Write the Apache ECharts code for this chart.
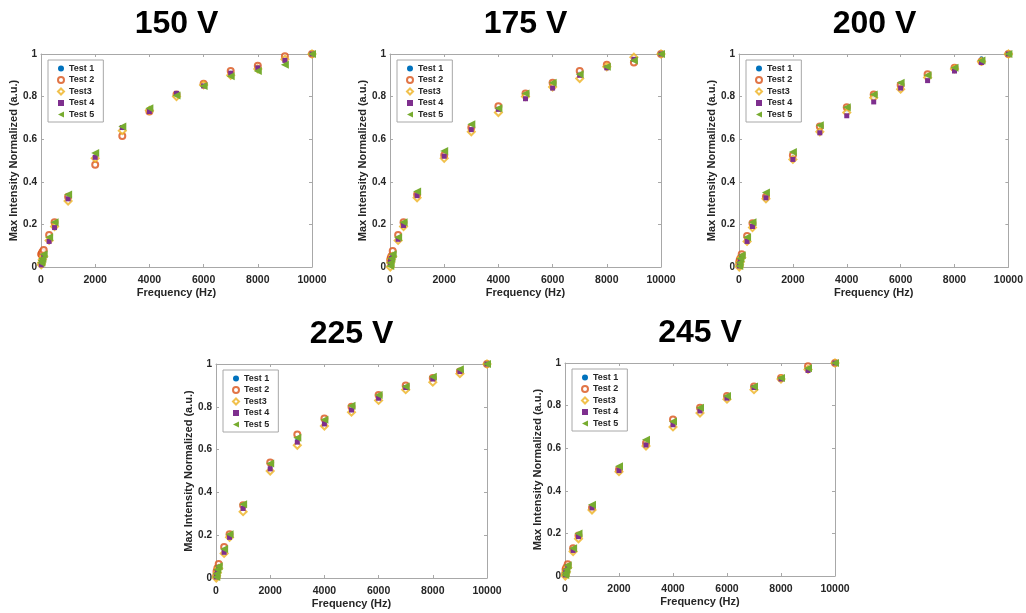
<!DOCTYPE html>
<html>
<head>
<meta charset="utf-8">
<script src="https://cdn.jsdelivr.net/npm/echarts@6/dist/echarts.min.js"></script>
<style>
  html, body { margin: 0; padding: 0; background: #fff; }
  #chart { width: 1026px; height: 613px; }
</style>
</head>
<body>
<div id="chart"></div>
<script>
// Drive frequencies (Hz) shared by every test
const freq = [10, 20, 50, 100, 300, 500, 1000, 2000, 3000, 4000, 5000, 6000, 7000, 8000, 9000, 10000];

const testNames = ['Test 1', 'Test 2', 'Test3', 'Test 4', 'Test 5'];
const voltages = ['150 V', '175 V', '200 V', '225 V', '245 V'];
const xTicks = [0, 2000, 4000, 6000, 8000, 10000];
const yTicks = [0, 0.2, 0.4, 0.6, 0.8, 1];

// Normalized max intensity, one row per test (Test 1 .. Test 5)
const v150 = [
  [0.015, 0.025, 0.04, 0.055, 0.13, 0.195, 0.325, 0.52, 0.65, 0.74, 0.81, 0.85, 0.91, 0.94, 0.975, 1],
  [0.06, 0.06, 0.07, 0.08, 0.15, 0.21, 0.33, 0.48, 0.615, 0.73, 0.81, 0.86, 0.92, 0.945, 0.99, 1],
  [0.01, 0.02, 0.035, 0.05, 0.125, 0.19, 0.31, 0.51, 0.64, 0.735, 0.80, 0.855, 0.90, 0.93, 0.975, 1],
  [0.01, 0.02, 0.03, 0.05, 0.12, 0.185, 0.32, 0.515, 0.655, 0.73, 0.815, 0.85, 0.91, 0.935, 0.97, 1],
  [0.02, 0.03, 0.04, 0.06, 0.14, 0.21, 0.34, 0.535, 0.66, 0.745, 0.805, 0.85, 0.895, 0.92, 0.95, 1]
];
const v175 = [
  [0.01, 0.025, 0.04, 0.055, 0.135, 0.20, 0.34, 0.525, 0.65, 0.745, 0.805, 0.85, 0.91, 0.945, 0.97, 1],
  [0.03, 0.04, 0.05, 0.075, 0.15, 0.21, 0.34, 0.525, 0.655, 0.755, 0.815, 0.865, 0.92, 0.95, 0.96, 1],
  [0.0, 0.02, 0.035, 0.05, 0.125, 0.19, 0.325, 0.51, 0.635, 0.725, 0.80, 0.845, 0.885, 0.94, 0.985, 1],
  [0.02, 0.03, 0.04, 0.05, 0.13, 0.195, 0.335, 0.52, 0.645, 0.74, 0.79, 0.84, 0.90, 0.935, 0.975, 1],
  [0.005, 0.02, 0.04, 0.06, 0.14, 0.21, 0.355, 0.545, 0.67, 0.745, 0.815, 0.865, 0.905, 0.94, 0.97, 1]
];
const v200 = [
  [0.01, 0.02, 0.035, 0.05, 0.135, 0.20, 0.335, 0.52, 0.645, 0.735, 0.80, 0.855, 0.895, 0.93, 0.98, 1],
  [0.02, 0.03, 0.04, 0.06, 0.145, 0.205, 0.33, 0.525, 0.66, 0.75, 0.81, 0.855, 0.905, 0.935, 0.965, 1],
  [0.0, 0.01, 0.025, 0.045, 0.12, 0.185, 0.32, 0.505, 0.635, 0.725, 0.795, 0.835, 0.89, 0.93, 0.965, 1],
  [0.005, 0.015, 0.03, 0.05, 0.12, 0.19, 0.325, 0.505, 0.63, 0.71, 0.775, 0.84, 0.875, 0.92, 0.96, 1],
  [0.005, 0.02, 0.04, 0.055, 0.14, 0.21, 0.35, 0.54, 0.665, 0.75, 0.81, 0.865, 0.90, 0.935, 0.97, 1]
];
const v225 = [
  [0.01, 0.02, 0.035, 0.055, 0.13, 0.20, 0.335, 0.525, 0.645, 0.735, 0.795, 0.85, 0.895, 0.935, 0.97, 1],
  [0.01, 0.03, 0.045, 0.065, 0.145, 0.205, 0.34, 0.54, 0.67, 0.745, 0.80, 0.855, 0.90, 0.935, 0.965, 1],
  [0.0, 0.01, 0.025, 0.045, 0.115, 0.19, 0.31, 0.50, 0.62, 0.71, 0.775, 0.83, 0.88, 0.915, 0.955, 1],
  [0.005, 0.015, 0.03, 0.05, 0.12, 0.19, 0.325, 0.51, 0.635, 0.72, 0.785, 0.84, 0.89, 0.93, 0.965, 1],
  [0.005, 0.02, 0.04, 0.055, 0.135, 0.205, 0.345, 0.535, 0.655, 0.74, 0.805, 0.855, 0.895, 0.94, 0.975, 1]
];
const v245 = [
  [0.005, 0.02, 0.03, 0.05, 0.125, 0.19, 0.325, 0.505, 0.625, 0.72, 0.78, 0.84, 0.885, 0.925, 0.975, 1],
  [0.01, 0.03, 0.04, 0.055, 0.13, 0.19, 0.32, 0.50, 0.625, 0.735, 0.79, 0.845, 0.89, 0.93, 0.985, 1],
  [0.0, 0.01, 0.02, 0.04, 0.115, 0.175, 0.31, 0.49, 0.61, 0.70, 0.765, 0.83, 0.875, 0.925, 0.97, 1],
  [0.005, 0.015, 0.025, 0.045, 0.12, 0.185, 0.32, 0.495, 0.615, 0.71, 0.775, 0.835, 0.885, 0.925, 0.965, 1],
  [0.005, 0.015, 0.03, 0.05, 0.13, 0.20, 0.335, 0.515, 0.64, 0.725, 0.79, 0.845, 0.89, 0.93, 0.975, 1]
];
const panelData = [v150, v175, v200, v225, v245];

// Panel placement (plot area in px)
const panels = [
  { left: 41,  top: 54,  width: 271, height: 213 },
  { left: 390, top: 54,  width: 271, height: 213 },
  { left: 739, top: 54,  width: 271, height: 213 },
  { left: 216, top: 364, width: 271, height: 214 },
  { left: 565, top: 363, width: 270, height: 213 }
];

const FONT = '"Liberation Sans", Arial, Helvetica, sans-serif';
const AXIS_GRAY = '#a8a8a8';
const TEXT_DARK = '#262626';

const colors = ['#0072BD', '#D95319', '#EDB120', '#7E2F8E', '#77AC30'];
const symbols = ['circle', 'emptyCircle', 'emptyDiamond', 'rect', 'path://M0,5 L10,0 L10,10 Z'];
const sizes = [4, 6, 7, 5, [8, 8]];

const grids = [], xAxes = [], yAxes = [], series = [], titles = [], legends = [];

panels.forEach((p, i) => {
  grids.push({ left: p.left, top: p.top, width: p.width, height: p.height, containLabel: false });

  titles.push({
    text: voltages[i],
    left: p.left + p.width / 2,
    top: p.top - 46,
    padding: 0,
    textAlign: 'center',
    textStyle: { fontFamily: FONT, fontSize: 32, fontWeight: 'bold', color: '#000' }
  });

  const tickStyle = { show: true, inside: true, length: 3, lineStyle: { color: AXIS_GRAY } };
  // bottom x axis with labels
  xAxes.push({
    gridIndex: i, type: 'value', position: 'bottom', min: 0, max: 10000, interval: 2000,
    name: 'Frequency (Hz)', nameLocation: 'middle', nameGap: 20, nameMoveOverlap: false,
    nameTextStyle: { fontFamily: FONT, fontSize: 11, fontWeight: 'bold', color: TEXT_DARK },
    axisLine: { show: true, onZero: false, lineStyle: { color: AXIS_GRAY } },
    axisTick: tickStyle,
    axisLabel: { fontFamily: FONT, fontSize: 10.5, fontWeight: 'bold', color: TEXT_DARK, margin: 8,
                 formatter: v => xTicks.includes(v) ? String(v) : '' },
    splitLine: { show: false }
  });
  // top x axis: box edge with ticks only
  xAxes.push({
    gridIndex: i, type: 'value', position: 'top', min: 0, max: 10000, interval: 2000,
    axisLine: { show: true, onZero: false, lineStyle: { color: AXIS_GRAY } },
    axisTick: tickStyle, axisLabel: { show: false }, splitLine: { show: false }
  });
  // left y axis with labels
  yAxes.push({
    gridIndex: i, type: 'value', position: 'left', min: 0, max: 1, interval: 0.2,
    name: 'Max Intensity Normalized (a.u.)', nameLocation: 'middle', nameGap: 22, nameRotate: 90,
    nameMoveOverlap: false,
    nameTextStyle: { fontFamily: FONT, fontSize: 11, fontWeight: 'bold', color: TEXT_DARK },
    axisLine: { show: true, onZero: false, lineStyle: { color: AXIS_GRAY } },
    axisTick: tickStyle,
    axisLabel: { fontFamily: FONT, fontSize: 10, fontWeight: 'bold', color: TEXT_DARK, margin: 4,
                 formatter: v => { const t = yTicks.find(y => Math.abs(y - v) < 1e-9); return t === undefined ? '' : String(t); } },
    splitLine: { show: false }
  });
  // right y axis: box edge with ticks only
  yAxes.push({
    gridIndex: i, type: 'value', position: 'right', min: 0, max: 1, interval: 0.2,
    axisLine: { show: true, onZero: false, lineStyle: { color: AXIS_GRAY } },
    axisTick: tickStyle, axisLabel: { show: false }, splitLine: { show: false }
  });

  testNames.forEach((name, k) => {
    series.push({
      name: name,
      type: 'scatter',
      xAxisIndex: 2 * i,
      yAxisIndex: 2 * i,
      symbol: symbols[k],
      symbolSize: sizes[k],
      itemStyle: k === 1 || k === 2
        ? { color: colors[k], borderColor: colors[k], borderWidth: 1.6 }
        : { color: colors[k], borderWidth: 0, opacity: 1 },
      emphasis: { disabled: true },
      z: 2 + k,
      data: freq.map((f, j) => [f, panelData[i][k][j]])
    });
  });

  legends.push({
    orient: 'vertical',
    left: p.left + 7,
    top: p.top + 6,
    padding: [4, 9, 3, 9],
    itemGap: 2.5,
    itemWidth: 6,
    itemHeight: 6,
    itemTextGap: 6,
    backgroundColor: '#fff',
    borderColor: AXIS_GRAY,
    borderWidth: 1,
    borderRadius: 0,
    selectedMode: false,
    data: testNames,
    textStyle: { fontFamily: FONT, fontSize: 9, fontWeight: 'bold', color: TEXT_DARK, lineHeight: 9 }
  });
});

const chart = echarts.init(document.getElementById('chart'), null, { renderer: 'canvas' });
chart.setOption({
  animation: false,
  backgroundColor: '#fff',
  title: titles,
  legend: legends,
  grid: grids,
  xAxis: xAxes,
  yAxis: yAxes,
  series: series
});
</script>
</body>
</html>
